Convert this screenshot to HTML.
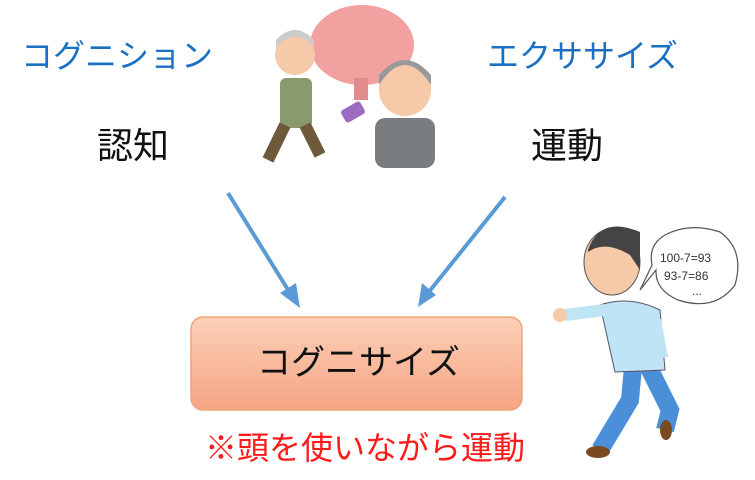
<!DOCTYPE html>
<html><head><meta charset="utf-8"><style>
body{margin:0;width:755px;height:480px;background:#fff;overflow:hidden;position:relative;font-family:"Liberation Sans","Noto Sans CJK JP",sans-serif}
.t{position:absolute;white-space:nowrap;line-height:1}
</style></head><body>
<div class="t" style="left:21px;top:40px;font-size:32px;color:#1a70c2">コグニション</div>
<div class="t" style="left:97px;top:128px;font-size:36px;color:#111">認知</div>
<div class="t" style="left:487px;top:40px;font-size:32px;color:#1a70c2">エクササイズ</div>
<div class="t" style="left:531px;top:128px;font-size:36px;color:#111">運動</div>
<svg width="755" height="480" style="position:absolute;left:0;top:0">
<defs><linearGradient id="g" x1="0" y1="0" x2="0" y2="1"><stop offset="0" stop-color="#fbd0b8"/><stop offset="1" stop-color="#f5a483"/></linearGradient></defs>
<g stroke="#5b9bd5" stroke-width="4" fill="#5b9bd5">
<line x1="228" y1="193" x2="290" y2="293"/><polygon points="300,308 280,293 296,283" stroke="none"/>
<line x1="505" y1="197" x2="428" y2="293"/><polygon points="418,307 422,283 436,295" stroke="none"/>
</g>
<rect x="191" y="317" width="331" height="93" rx="12" fill="url(#g)" stroke="#eea57a" stroke-width="1.5"/>
<ellipse cx="362" cy="45" rx="52" ry="40" fill="#f2a0a0"/>
<rect x="354" y="78" width="14" height="22" fill="#e08c8c"/>
<circle cx="295" cy="55" r="20" fill="#f6c9a8"/>
<path d="M276 48 Q295 25 314 48 L314 40 Q295 20 276 40Z" fill="#ccc"/>
<rect x="280" y="78" width="32" height="50" rx="6" fill="#8a9a6e"/>
<path d="M285 125 L268 160 M305 125 L320 155" stroke="#6e5a3a" stroke-width="12"/>
<circle cx="405" cy="90" r="26" fill="#f6c9a8"/>
<path d="M379 85 Q405 45 431 85 L431 75 Q405 45 379 75Z" fill="#999"/>
<rect x="375" y="118" width="60" height="50" rx="10" fill="#7a7d80"/>
<rect x="342" y="105" width="22" height="14" rx="3" fill="#9a6bc0" transform="rotate(-30 353 112)"/>
<path d="M635 345 L630 400 L600 450 M640 350 L670 410 L665 430" stroke="#4a8fd8" stroke-width="18" fill="none"/>
<path d="M600 305 Q630 295 660 310 L665 370 L615 372Z" fill="#bfe4f6" stroke="#556" stroke-width="1"/>
<path d="M605 310 L565 315" stroke="#bfe4f6" stroke-width="12"/>
<circle cx="560" cy="315" r="7" fill="#f6c9a8"/>
<path d="M655 320 L662 358" stroke="#bfe4f6" stroke-width="12"/>
<ellipse cx="612" cy="262" rx="28" ry="33" fill="#f6c9a8" stroke="#555" stroke-width="1"/>
<path d="M588 250 Q600 215 640 232 L640 270 L630 255 Q605 240 588 252Z" fill="#444"/>
<ellipse cx="598" cy="452" rx="12" ry="6" fill="#7a4a20"/>
<ellipse cx="666" cy="430" rx="6" ry="10" fill="#7a4a20"/>
<path d="M665 235 Q690 222 720 232 Q745 250 735 285 Q715 312 678 300 Q655 290 656 270 L640 290 L652 265 Q648 245 665 235Z" fill="#fff" stroke="#555" stroke-width="1.2"/>
<text x="660" y="262" font-size="12" fill="#333" font-family="Liberation Sans">100-7=93</text>
<text x="664" y="280" font-size="12" fill="#333" font-family="Liberation Sans">93-7=86</text>
<text x="692" y="295" font-size="12" fill="#333" font-family="Liberation Sans">...</text>
</svg>
<div class="t" style="left:257px;top:346px;font-size:34px;color:#111">コグニサイズ</div>
<div class="t" style="left:205px;top:432px;font-size:32px;color:#ff1a1a">※頭を使いながら運動</div>
</body></html>
